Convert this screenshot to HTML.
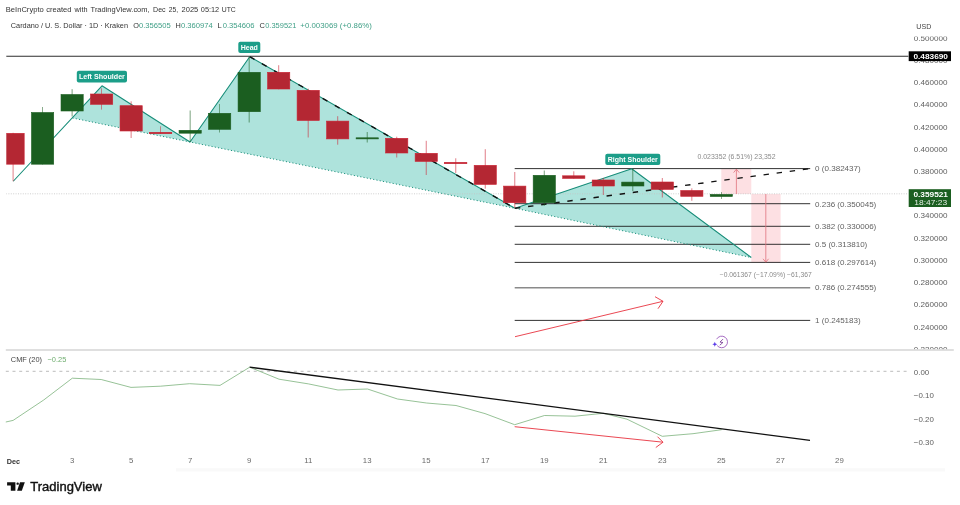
<!DOCTYPE html>
<html lang="en"><head><meta charset="utf-8"><title>Cardano / U. S. Dollar</title>
<style>
html,body{margin:0;padding:0;background:#fff;}
body{width:960px;height:505px;overflow:hidden;font-family:"Liberation Sans",sans-serif;}
svg{display:block;}
text{font-family:"Liberation Sans",sans-serif;}
</style></head><body>
<svg width="960" height="505" viewBox="0 0 960 505">
<defs>
<clipPath id="pane"><rect x="6.3" y="36.5" width="902.2" height="313"/></clipPath>
<clipPath id="axis"><rect x="905" y="36.5" width="55" height="312.8"/></clipPath>
</defs>
<rect width="960" height="505" fill="#ffffff"/>

<text y="11.9" font-size="7.7" fill="#333"><tspan x="5.8" textLength="37.95" lengthAdjust="spacingAndGlyphs">BeInCrypto</tspan> <tspan x="46.25" textLength="25.25" lengthAdjust="spacingAndGlyphs">created</tspan> <tspan x="74.6" textLength="12.90" lengthAdjust="spacingAndGlyphs">with</tspan> <tspan x="90.6" textLength="59.00" lengthAdjust="spacingAndGlyphs">TradingView.com,</tspan> <tspan x="153.1" textLength="12.50" lengthAdjust="spacingAndGlyphs">Dec</tspan> <tspan x="168.75" textLength="9.35" lengthAdjust="spacingAndGlyphs">25,</tspan> <tspan x="181.5" textLength="16.80" lengthAdjust="spacingAndGlyphs">2025</tspan> <tspan x="200.8" textLength="18.40" lengthAdjust="spacingAndGlyphs">05:12</tspan> <tspan x="221.7" textLength="14.10" lengthAdjust="spacingAndGlyphs">UTC</tspan></text>
<text x="10.8" y="28.2" font-size="7.6" fill="#333" textLength="117.2" lengthAdjust="spacingAndGlyphs">Cardano / U. S. Dollar · 1D · Kraken</text>
<text x="133.3" y="28.2" font-size="7.6" fill="#333" textLength="5.7" lengthAdjust="spacingAndGlyphs">O</text>
<text x="139" y="28.2" font-size="7.6" fill="#3f9f86" textLength="31.8" lengthAdjust="spacingAndGlyphs">0.356505</text>
<text x="175.6" y="28.2" font-size="7.6" fill="#333" textLength="5.3" lengthAdjust="spacingAndGlyphs">H</text>
<text x="180.9" y="28.2" font-size="7.6" fill="#3f9f86" textLength="31.8" lengthAdjust="spacingAndGlyphs">0.360974</text>
<text x="217.6" y="28.2" font-size="7.6" fill="#333" textLength="4.2" lengthAdjust="spacingAndGlyphs">L</text>
<text x="222.7" y="28.2" font-size="7.6" fill="#3f9f86" textLength="31.8" lengthAdjust="spacingAndGlyphs">0.354606</text>
<text x="259.6" y="28.2" font-size="7.6" fill="#333" textLength="5.4" lengthAdjust="spacingAndGlyphs">C</text>
<text x="265.2" y="28.2" font-size="7.6" fill="#3f9f86" textLength="31.2" lengthAdjust="spacingAndGlyphs">0.359521</text>
<text x="300.3" y="28.2" font-size="7.6" fill="#3f9f86" textLength="71.6" lengthAdjust="spacingAndGlyphs">+0.003069 (+0.86%)</text>
<g clip-path="url(#pane)">
<polygon points="72.5,118 102,85.8 190,142" fill="#aee3dc"/>
<polygon points="190,142 249.7,56.7 515,208.3" fill="#aee3dc"/>
<polygon points="515,208.3 631.7,168.7 751.3,257.5" fill="#aee3dc"/>
<rect x="721.3" y="168.7" width="30" height="25.3" fill="#fde0e3"/>
<rect x="751.3" y="194" width="29.3" height="68.6" fill="#fde0e3"/>
<line x1="6" y1="193.8" x2="908.5" y2="193.8" stroke="#c4c4c4" stroke-width="0.8" stroke-dasharray="1 1.4"/>
<line x1="6" y1="56.2" x2="908.7" y2="56.2" stroke="#2e2e2e" stroke-width="1.1"/>
<line x1="514.7" y1="168.6" x2="810.2" y2="168.6" stroke="#1c1c1c" stroke-width="0.9"/>
<line x1="514.7" y1="203.7" x2="810.2" y2="203.7" stroke="#1c1c1c" stroke-width="0.9"/>
<line x1="514.7" y1="226.3" x2="810.2" y2="226.3" stroke="#1c1c1c" stroke-width="0.9"/>
<line x1="514.7" y1="244.3" x2="810.2" y2="244.3" stroke="#1c1c1c" stroke-width="0.9"/>
<line x1="514.7" y1="262.4" x2="810.2" y2="262.4" stroke="#1c1c1c" stroke-width="0.9"/>
<line x1="514.7" y1="287.8" x2="810.2" y2="287.8" stroke="#8a8a8a" stroke-width="1.5"/>
<line x1="514.7" y1="320.4" x2="810.2" y2="320.4" stroke="#1c1c1c" stroke-width="0.9"/>
<polyline points="72.5,118 190,142 515,208.3 751.3,257.5" fill="none" stroke="#178d79" stroke-width="1" stroke-dasharray="1.1 2.2"/>
<polyline points="13.25,181.25 102,85.8 190,142 249.7,56.7 515,208.3 631.7,168.7 751.3,257.5" fill="none" stroke="#178d79" stroke-width="1.1" stroke-linejoin="round"/>
<line x1="249.7" y1="56.7" x2="515" y2="208.3" stroke="#111" stroke-width="1.4" stroke-dasharray="5.5 8.5"/>
<line x1="515" y1="208.3" x2="810" y2="168.6" stroke="#111" stroke-width="1.4" stroke-dasharray="5.4 7.8"/>
<line x1="13.10" y1="132.8" x2="13.10" y2="181.25" stroke="#cc2233" stroke-width="0.65" opacity="0.9"/>
<rect x="2.00" y="133.30" width="22.20" height="30.90" fill="#b42733" stroke="#cc2233" stroke-width="0.6"/>
<line x1="42.61" y1="107" x2="42.61" y2="164.5" stroke="#1b5e20" stroke-width="0.65" opacity="0.9"/>
<rect x="31.51" y="112.50" width="22.20" height="51.70" fill="#1b5e20" stroke="#1b5e20" stroke-width="0.6"/>
<line x1="72.12" y1="89.2" x2="72.12" y2="116.5" stroke="#1b5e20" stroke-width="0.65" opacity="0.9"/>
<rect x="61.02" y="94.50" width="22.20" height="16.50" fill="#1b5e20" stroke="#1b5e20" stroke-width="0.6"/>
<line x1="101.63" y1="88.3" x2="101.63" y2="109.6" stroke="#cc2233" stroke-width="0.65" opacity="0.9"/>
<rect x="90.53" y="94.00" width="22.20" height="10.30" fill="#b42733" stroke="#cc2233" stroke-width="0.6"/>
<line x1="131.14" y1="101.3" x2="131.14" y2="138" stroke="#cc2233" stroke-width="0.65" opacity="0.9"/>
<rect x="120.04" y="105.70" width="22.20" height="25.30" fill="#b42733" stroke="#cc2233" stroke-width="0.6"/>
<line x1="160.65" y1="126.3" x2="160.65" y2="134" stroke="#cc2233" stroke-width="0.65" opacity="0.9"/>
<rect x="149.55" y="132.30" width="22.20" height="1.40" fill="#b42733" stroke="#cc2233" stroke-width="0.6"/>
<line x1="190.16" y1="110.5" x2="190.16" y2="142" stroke="#1b5e20" stroke-width="0.65" opacity="0.9"/>
<rect x="179.06" y="130.30" width="22.20" height="2.90" fill="#1b5e20" stroke="#1b5e20" stroke-width="0.6"/>
<line x1="219.67" y1="104" x2="219.67" y2="132.5" stroke="#1b5e20" stroke-width="0.65" opacity="0.9"/>
<rect x="208.57" y="113.30" width="22.20" height="16.00" fill="#1b5e20" stroke="#1b5e20" stroke-width="0.6"/>
<line x1="249.18" y1="56.7" x2="249.18" y2="122.5" stroke="#1b5e20" stroke-width="0.65" opacity="0.9"/>
<rect x="238.08" y="72.30" width="22.20" height="39.40" fill="#1b5e20" stroke="#1b5e20" stroke-width="0.6"/>
<line x1="278.69" y1="65.2" x2="278.69" y2="89.3" stroke="#cc2233" stroke-width="0.65" opacity="0.9"/>
<rect x="267.59" y="72.30" width="22.20" height="16.70" fill="#b42733" stroke="#cc2233" stroke-width="0.6"/>
<line x1="308.20" y1="88.7" x2="308.20" y2="137.5" stroke="#cc2233" stroke-width="0.65" opacity="0.9"/>
<rect x="297.10" y="90.30" width="22.20" height="30.20" fill="#b42733" stroke="#cc2233" stroke-width="0.6"/>
<line x1="337.71" y1="116.2" x2="337.71" y2="144.7" stroke="#cc2233" stroke-width="0.65" opacity="0.9"/>
<rect x="326.61" y="121.10" width="22.20" height="17.80" fill="#b42733" stroke="#cc2233" stroke-width="0.6"/>
<line x1="367.22" y1="132" x2="367.22" y2="142.5" stroke="#1b5e20" stroke-width="0.65" opacity="0.9"/>
<rect x="356.12" y="137.80" width="22.20" height="1.10" fill="#1b5e20" stroke="#1b5e20" stroke-width="0.6"/>
<line x1="396.73" y1="136.7" x2="396.73" y2="157.5" stroke="#cc2233" stroke-width="0.65" opacity="0.9"/>
<rect x="385.63" y="138.30" width="22.20" height="14.70" fill="#b42733" stroke="#cc2233" stroke-width="0.6"/>
<line x1="426.24" y1="140.8" x2="426.24" y2="175" stroke="#cc2233" stroke-width="0.65" opacity="0.9"/>
<rect x="415.14" y="153.30" width="22.20" height="8.10" fill="#b42733" stroke="#cc2233" stroke-width="0.6"/>
<line x1="455.75" y1="158.3" x2="455.75" y2="173" stroke="#cc2233" stroke-width="0.65" opacity="0.9"/>
<rect x="444.65" y="162.30" width="22.20" height="1.40" fill="#b42733" stroke="#cc2233" stroke-width="0.6"/>
<line x1="485.26" y1="149.2" x2="485.26" y2="188.7" stroke="#cc2233" stroke-width="0.65" opacity="0.9"/>
<rect x="474.16" y="165.30" width="22.20" height="19.10" fill="#b42733" stroke="#cc2233" stroke-width="0.6"/>
<line x1="514.77" y1="172" x2="514.77" y2="208.3" stroke="#cc2233" stroke-width="0.65" opacity="0.9"/>
<rect x="503.67" y="186.10" width="22.20" height="16.60" fill="#b42733" stroke="#cc2233" stroke-width="0.6"/>
<line x1="544.28" y1="170.5" x2="544.28" y2="205.8" stroke="#1b5e20" stroke-width="0.65" opacity="0.9"/>
<rect x="533.18" y="175.30" width="22.20" height="27.40" fill="#1b5e20" stroke="#1b5e20" stroke-width="0.6"/>
<line x1="573.79" y1="171.3" x2="573.79" y2="178.7" stroke="#cc2233" stroke-width="0.65" opacity="0.9"/>
<rect x="562.69" y="175.80" width="22.20" height="2.60" fill="#b42733" stroke="#cc2233" stroke-width="0.6"/>
<line x1="603.30" y1="178" x2="603.30" y2="195" stroke="#cc2233" stroke-width="0.65" opacity="0.9"/>
<rect x="592.20" y="180.00" width="22.20" height="6.00" fill="#b42733" stroke="#cc2233" stroke-width="0.6"/>
<line x1="632.81" y1="168.7" x2="632.81" y2="191" stroke="#1b5e20" stroke-width="0.65" opacity="0.9"/>
<rect x="621.71" y="182.10" width="22.20" height="3.90" fill="#1b5e20" stroke="#1b5e20" stroke-width="0.6"/>
<line x1="662.32" y1="178" x2="662.32" y2="197.5" stroke="#cc2233" stroke-width="0.65" opacity="0.9"/>
<rect x="651.22" y="182.00" width="22.20" height="7.40" fill="#b42733" stroke="#cc2233" stroke-width="0.6"/>
<line x1="691.83" y1="188.3" x2="691.83" y2="200.8" stroke="#cc2233" stroke-width="0.65" opacity="0.9"/>
<rect x="680.73" y="190.50" width="22.20" height="5.80" fill="#b42733" stroke="#cc2233" stroke-width="0.6"/>
<line x1="721.34" y1="192" x2="721.34" y2="199" stroke="#1b5e20" stroke-width="0.65" opacity="0.9"/>
<rect x="710.24" y="194.40" width="22.20" height="2.10" fill="#1b5e20" stroke="#1b5e20" stroke-width="0.6"/>
<path d="M736.4 194V169.3M733.6 172.6L736.4 169.2L739.2 172.6" fill="none" stroke="#e0737d" stroke-width="0.8"/>
<path d="M765.8 194V262M763 258.8L765.8 262.2L768.6 258.8" fill="none" stroke="#e0737d" stroke-width="0.8"/>
<path d="M515 336.7L663 301.3M655 296.7L663 301.3L658 308.7" fill="none" stroke="#e8333f" stroke-width="0.9"/>
</g>
<text x="697.5" y="159" font-size="6.5" fill="#8a8a8a" textLength="78" lengthAdjust="spacingAndGlyphs">0.023352 (6.51%) 23,352</text>
<text x="719.7" y="276.8" font-size="6.5" fill="#8a8a8a" textLength="92" lengthAdjust="spacingAndGlyphs">−0.061367 (−17.09%) −61,367</text>
<rect x="76.8" y="70.8" width="50.2" height="11.6" rx="2" fill="#1c9e89"/>
<text x="101.9" y="79.3" font-size="7.6" font-weight="bold" fill="#fff" text-anchor="middle" textLength="46" lengthAdjust="spacingAndGlyphs">Left Shoulder</text>
<rect x="238.3" y="41.7" width="22" height="11.3" rx="2" fill="#1c9e89"/>
<text x="249.3" y="50.050000000000004" font-size="7.6" font-weight="bold" fill="#fff" text-anchor="middle" textLength="17.2" lengthAdjust="spacingAndGlyphs">Head</text>
<rect x="605.3" y="153.8" width="55" height="11.2" rx="2" fill="#1c9e89"/>
<text x="632.8" y="162.1" font-size="7.6" font-weight="bold" fill="#fff" text-anchor="middle" textLength="50" lengthAdjust="spacingAndGlyphs">Right Shoulder</text>
<text x="815" y="171.10000000000002" font-size="7.5" fill="#636363" textLength="45.8" lengthAdjust="spacingAndGlyphs">0 (0.382437)</text>
<text x="815" y="206.8" font-size="7.5" fill="#636363" textLength="61.3" lengthAdjust="spacingAndGlyphs">0.236 (0.350045)</text>
<text x="815" y="229.3" font-size="7.5" fill="#636363" textLength="61.3" lengthAdjust="spacingAndGlyphs">0.382 (0.330006)</text>
<text x="815" y="247.0" font-size="7.5" fill="#636363" textLength="52.3" lengthAdjust="spacingAndGlyphs">0.5 (0.313810)</text>
<text x="815" y="265.1" font-size="7.5" fill="#636363" textLength="61.3" lengthAdjust="spacingAndGlyphs">0.618 (0.297614)</text>
<text x="815" y="290.3" font-size="7.5" fill="#636363" textLength="61.3" lengthAdjust="spacingAndGlyphs">0.786 (0.274555)</text>
<text x="815" y="322.8" font-size="7.5" fill="#636363" textLength="45.8" lengthAdjust="spacingAndGlyphs">1 (0.245183)</text>
<path d="M716.6 339.2A5.8 5.8 0 1 1 717.2 345.6" fill="none" stroke="#9148b4" stroke-width="0.8"/>
<path d="M723 339.1L720 342.1L722.9 342.5L719.8 345.2" fill="none" stroke="#6c2a8c" stroke-width="0.8" stroke-linejoin="round"/>
<path d="M714.8 341.7L715.5 343.5L717.3 344.2L715.5 344.9L714.8 346.7L714.1 344.9L712.3 344.2L714.1 343.5Z" fill="#5a3be8"/>
<text x="916.3" y="29.1" font-size="7.8" fill="#444" textLength="15" lengthAdjust="spacingAndGlyphs">USD</text>
<g clip-path="url(#axis)">
<text x="913.8" y="40.7" font-size="8" fill="#606060" textLength="33.7" lengthAdjust="spacingAndGlyphs">0.500000</text>
<text x="913.8" y="62.9" font-size="8" fill="#606060" textLength="33.7" lengthAdjust="spacingAndGlyphs">0.480000</text>
<text x="913.8" y="85.1" font-size="8" fill="#606060" textLength="33.7" lengthAdjust="spacingAndGlyphs">0.460000</text>
<text x="913.8" y="107.3" font-size="8" fill="#606060" textLength="33.7" lengthAdjust="spacingAndGlyphs">0.440000</text>
<text x="913.8" y="129.6" font-size="8" fill="#606060" textLength="33.7" lengthAdjust="spacingAndGlyphs">0.420000</text>
<text x="913.8" y="151.8" font-size="8" fill="#606060" textLength="33.7" lengthAdjust="spacingAndGlyphs">0.400000</text>
<text x="913.8" y="174.0" font-size="8" fill="#606060" textLength="33.7" lengthAdjust="spacingAndGlyphs">0.380000</text>
<text x="913.8" y="196.2" font-size="8" fill="#606060" textLength="33.7" lengthAdjust="spacingAndGlyphs">0.360000</text>
<text x="913.8" y="218.4" font-size="8" fill="#606060" textLength="33.7" lengthAdjust="spacingAndGlyphs">0.340000</text>
<text x="913.8" y="240.6" font-size="8" fill="#606060" textLength="33.7" lengthAdjust="spacingAndGlyphs">0.320000</text>
<text x="913.8" y="262.8" font-size="8" fill="#606060" textLength="33.7" lengthAdjust="spacingAndGlyphs">0.300000</text>
<text x="913.8" y="285.1" font-size="8" fill="#606060" textLength="33.7" lengthAdjust="spacingAndGlyphs">0.280000</text>
<text x="913.8" y="307.3" font-size="8" fill="#606060" textLength="33.7" lengthAdjust="spacingAndGlyphs">0.260000</text>
<text x="913.8" y="329.5" font-size="8" fill="#606060" textLength="33.7" lengthAdjust="spacingAndGlyphs">0.240000</text>
<text x="913.8" y="351.7" font-size="8" fill="#606060" textLength="33.7" lengthAdjust="spacingAndGlyphs">0.220000</text>
</g>
<rect x="908.7" y="51.3" width="42.3" height="9.8" fill="#000"/>
<text x="913.4" y="59" font-size="8" fill="#fff" textLength="34.6" lengthAdjust="spacingAndGlyphs" font-weight="bold">0.483690</text>
<rect x="908.7" y="189.2" width="42.3" height="17.8" fill="#1b5e20"/>
<text x="913.4" y="196.7" font-size="8" fill="#fff" textLength="34.6" lengthAdjust="spacingAndGlyphs" font-weight="bold">0.359521</text>
<text x="914.3" y="205.2" font-size="8" fill="#e4efe4" textLength="32.8" lengthAdjust="spacingAndGlyphs">18:47:23</text>
<rect x="5.8" y="349.3" width="948" height="1.4" fill="#d2d2d2"/>
<text x="10.8" y="362.3" font-size="7.6" fill="#444" textLength="31.2" lengthAdjust="spacingAndGlyphs">CMF (20)</text>
<text x="47.5" y="362.3" font-size="7.6" fill="#6fae6f" textLength="18.8" lengthAdjust="spacingAndGlyphs">−0.25</text>
<line x1="5.8" y1="371.3" x2="908.3" y2="371.3" stroke="#ababab" stroke-width="0.8" stroke-dasharray="3 3.7"/>
<polyline points="5.8,422 13.1,420.4 43.7,400 72.3,378.2 101.2,379.5 131,387.4 160.5,386.2 189.6,383.7 220,385.4 249.7,367.2 279,379.2 308.5,383.9 338,390 367.5,389 397.5,399 426.5,403 456,405.5 485,413.6 514.7,424.7 544.5,415.5 575,416.2 603.3,413.3 627,419.2 662.3,436.3 693,433.7 721.7,429.7" fill="none" stroke="#6aa86a" stroke-width="0.7"/>
<line x1="249.7" y1="367.2" x2="810" y2="440.3" stroke="#111" stroke-width="1.3"/>
<path d="M514.7 426.7L663 442.2M657.5 436.7L663 442.2L655.8 447.5" fill="none" stroke="#e8333f" stroke-width="0.9"/>
<text x="913.8" y="374.59999999999997" font-size="8" fill="#606060" textLength="15.4" lengthAdjust="spacingAndGlyphs">0.00</text>
<text x="913.8" y="397.9" font-size="8" fill="#606060" textLength="20" lengthAdjust="spacingAndGlyphs">−0.10</text>
<text x="913.8" y="421.59999999999997" font-size="8" fill="#606060" textLength="20" lengthAdjust="spacingAndGlyphs">−0.20</text>
<text x="913.8" y="445.09999999999997" font-size="8" fill="#606060" textLength="20" lengthAdjust="spacingAndGlyphs">−0.30</text>
<text x="6.7" y="463.5" font-size="7.6" fill="#333" textLength="13.3" lengthAdjust="spacingAndGlyphs" font-weight="bold">Dec</text>
<text x="72.1" y="463.3" font-size="7.8" fill="#6a6a6a" text-anchor="middle">3</text>
<text x="131.1" y="463.3" font-size="7.8" fill="#6a6a6a" text-anchor="middle">5</text>
<text x="190.2" y="463.3" font-size="7.8" fill="#6a6a6a" text-anchor="middle">7</text>
<text x="249.2" y="463.3" font-size="7.8" fill="#6a6a6a" text-anchor="middle">9</text>
<text x="308.2" y="463.3" font-size="7.8" fill="#6a6a6a" text-anchor="middle">11</text>
<text x="367.2" y="463.3" font-size="7.8" fill="#6a6a6a" text-anchor="middle">13</text>
<text x="426.2" y="463.3" font-size="7.8" fill="#6a6a6a" text-anchor="middle">15</text>
<text x="485.3" y="463.3" font-size="7.8" fill="#6a6a6a" text-anchor="middle">17</text>
<text x="544.3" y="463.3" font-size="7.8" fill="#6a6a6a" text-anchor="middle">19</text>
<text x="603.3" y="463.3" font-size="7.8" fill="#6a6a6a" text-anchor="middle">21</text>
<text x="662.3" y="463.3" font-size="7.8" fill="#6a6a6a" text-anchor="middle">23</text>
<text x="721.3" y="463.3" font-size="7.8" fill="#6a6a6a" text-anchor="middle">25</text>
<text x="780.4" y="463.3" font-size="7.8" fill="#6a6a6a" text-anchor="middle">27</text>
<text x="839.4" y="463.3" font-size="7.8" fill="#6a6a6a" text-anchor="middle">29</text>
<rect x="176" y="468.2" width="769" height="3.3" fill="#f9f9f9"/>
<path d="M7.1 482.3H15.4V490.8H10.8V485.4H7.1Z" fill="#111"/>
<circle cx="17.65" cy="483.65" r="1.22" fill="#111"/>
<path d="M20 482.3H24.8L21.8 490.8H17.1Z" fill="#111"/>
<text x="30.3" y="490.8" font-size="12.2" fill="#111" stroke="#111" stroke-width="0.38" textLength="71.5" lengthAdjust="spacingAndGlyphs">TradingView</text>
</svg>
</body></html>
